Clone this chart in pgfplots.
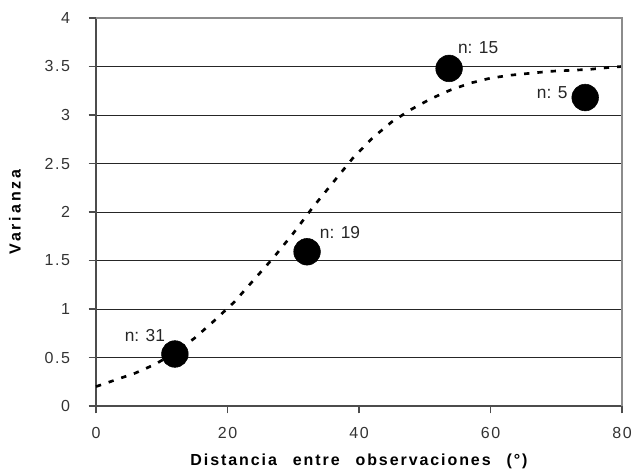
\documentclass[border=0pt]{standalone}
\usepackage{fontspec}
\setmainfont{Liberation Sans}
\newfontfamily\xlabfont{Liberation Sans}[LetterSpace=12,WordSpace=2.5]
\newfontfamily\ylabfont{Liberation Sans}[LetterSpace=18]
\newfontfamily\tickfont{Liberation Sans}[LetterSpace=10]
\usepackage{pgfplots}
\usepackage{pgfplotstable}
\pgfplotsset{compat=1.18}

\pgfplotstableread{
x y label dx dy
12.0 0.536 {n: 31} -22.5 13.5
32.1 1.59 {n: 19} 24.75 14.25
53.7 3.48 {n: 15} 21.75 15.75
74.4 3.18 {n: 5} -24.75 3.75
}\pts

\pgfplotstableread{
x y
0 0.20
3 0.27
6 0.34
9 0.43
12 0.55
15 0.70
18 0.88
21 1.07
24 1.30
27 1.53
30 1.78
33 2.05
36 2.30
39 2.55
42 2.76
45 2.93
48 3.06
51 3.17
54 3.26
57 3.33
60 3.38
63 3.41
66 3.43
69 3.45
72 3.46
75 3.47
78 3.49
80 3.50
}\curve

\begin{document}
\begin{tikzpicture}
\begin{axis}[
  scale only axis,
  width=394.5pt, height=291pt,
  xmin=0, xmax=80, ymin=0, ymax=4,
  xtick={0,20,40,60,80},
  ytick={0,0.5,1,1.5,2,2.5,3,3.5,4},
  axis x line*=bottom, axis y line*=left,
  tick align=outside,
  major tick length=5.5pt,
  ymajorgrids,
  major grid style={black!85, line width=0.6pt},
  axis line style={black!70, line width=0.8pt},
  tick style={black!70, line width=0.8pt},
  /pgf/number format/assume math mode=true,
  ticklabel style={font=\tickfont\fontsize{12}{14}\selectfont, text=black!80},
  yticklabel style={xshift=-10.5pt},
  xticklabel style={yshift=-7pt},
  xlabel={\xlabfont\bfseries\fontsize{12}{14}\selectfont Distancia entre observaciones (°)},
  ylabel={\ylabfont\bfseries\fontsize{12}{14}\selectfont Varianza},
  every axis x label/.style={at={(axis description cs:0.5,-0.142)}, anchor=center},
  every axis y label/.style={at={(axis description cs:-0.154,0.5)}, anchor=center, rotate=90},
  clip=false,
]
\addplot[black, line width=2pt, dash pattern=on 4pt off 6pt] table[x=x,y=y] {\curve};
\addplot[only marks, mark=*, mark size=10pt, mark options={fill=black, draw=black},
  nodes near coords, point meta=explicit symbolic,
  visualization depends on={\thisrow{dx} \as \dx},
  visualization depends on={\thisrow{dy} \as \dy},
  nodes near coords style={anchor=center, xshift=\dx*1pt, yshift=\dy*1pt,
    font=\fontsize{13}{15}\selectfont, text=black!85, inner sep=0pt}]
  table[x=x,y=y,meta=label] {\pts};
\draw[black!45, line width=0.8pt] (rel axis cs:0,1) -- (rel axis cs:1,1) -- (rel axis cs:1,0);
\coordinate (sw) at (rel axis cs:0,0);
\coordinate (ne) at (rel axis cs:1,1);
\end{axis}
\pgfresetboundingbox
\path ([xshift=-72pt,yshift=-49.5pt]sw) rectangle ([xshift=8.25pt,yshift=13.5pt]ne);
\end{tikzpicture}
\end{document}
